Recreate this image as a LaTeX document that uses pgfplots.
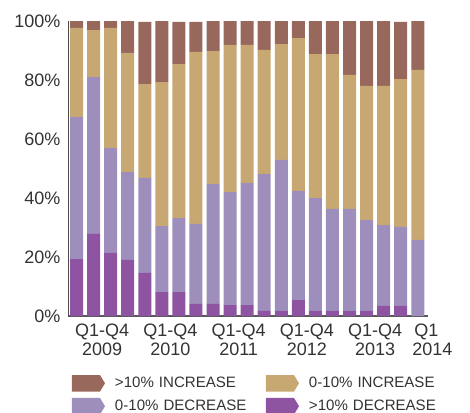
\documentclass[border=0pt]{standalone}
\usepackage{pgfplots}
\pgfplotsset{compat=1.18}
\usepackage{fontspec}
\setmainfont{Liberation Sans}
\definecolor{incA}{HTML}{98685C}
\definecolor{incB}{HTML}{C8A872}
\definecolor{decB}{HTML}{9E8EBB}
\definecolor{decA}{HTML}{8E54A2}
\definecolor{txt}{HTML}{333333}
\begin{document}
\begin{tikzpicture}
\useasboundingbox (0,0) rectangle (352.5pt,309pt);
\begin{axis}[
  at={(51pt,72pt)}, anchor=south west,
  scale only axis, width=270pt, height=221.25pt,
  ybar stacked, bar width=9.75pt,
  xmin=0.5, xmax=21.6, ymin=0, ymax=100,
  axis x line=bottom, axis y line=left,
  x axis line style={-, draw=black!65, line width=1.3pt},
  y axis line style={-, draw=black!70, line width=0.7pt},
  ytick={0,20,40,60,80,100},
  yticklabel={\pgfmathprintnumber{\tick}\%},
  ytick style={draw=none},
  xtick={2.5,6.5,10.5,14.5,18.5,21.5},
  xticklabels={{Q1-Q4\\2009},{Q1-Q4\\2010},{Q1-Q4\\2011},{Q1-Q4\\2012},{Q1-Q4\\2013},{Q1\\\hspace*{9pt}2014}},
  x tick style={draw=none},
  extra x ticks={4.5,8.5,12.5},
  extra x tick labels={},
  extra x tick style={tick align=outside, major tick length=3pt, tick style={draw=black!60, line width=0.9pt}},
  /pgf/number format/assume math mode=true,
  ticklabel style={font=\fontsize{13.5}{14.5}\selectfont, text=txt},
  xticklabel style={align=center},
  legend columns=2,
  reverse legend,
  legend cell align=left,
  legend image code/.code={
    \fill[#1] (0pt,-6.2pt) -- (21pt,-6.2pt) -- (24.75pt,0pt) -- (21pt,6.2pt) -- (0pt,6.2pt) -- cycle;
    \path (32.25pt,0pt);
  },
  legend style={at={(axis description cs:0.0111,-0.2)}, anchor=north west,
    draw=none, fill=none, inner sep=0pt, outer sep=0pt, row sep=4.8pt,
    font=\fontsize{11.3}{13}\selectfont, text=txt,
    nodes={inner sep=0pt, text width=113.25pt, align=left}},
]
\addplot[fill=decA, draw=none] coordinates {(1,19.3) (2,27.8) (3,21.4) (4,19.0) (5,14.6) (6,8.1) (7,8.1) (8,4.1) (9,4.1) (10,3.7) (11,3.7) (12,1.7) (13,1.7) (14,5.4) (15,1.7) (16,1.7) (17,1.7) (18,1.7) (19,3.4) (20,3.4) (21,0)};
\addlegendentry{>10\% DECREASE}
\addplot[fill=decB, draw=none] coordinates {(1,48.2) (2,53.2) (3,35.5) (4,29.8) (5,32.2) (6,22.4) (7,25.1) (8,27.1) (9,40.6) (10,38.3) (11,41.4) (12,46.4) (13,51.2) (14,37.0) (15,38.3) (16,34.6) (17,34.6) (18,30.8) (19,27.4) (20,26.8) (21,25.8)};
\addlegendentry{0-10\% DECREASE}
\addplot[fill=incB, draw=none] coordinates {(1,30.2) (2,15.9) (3,40.8) (4,40.4) (5,31.8) (6,48.8) (7,52.2) (8,58.3) (9,45.1) (10,49.9) (11,46.8) (12,42.1) (13,39.3) (14,51.8) (15,48.8) (16,52.5) (17,45.4) (18,45.5) (19,47.2) (20,50.1) (21,57.6)};
\addlegendentry{0-10\% INCREASE}
\addplot[fill=incA, draw=none] coordinates {(1,2.3) (2,3.1) (3,2.3) (4,10.8) (5,21.1) (6,20.7) (7,14.3) (8,10.2) (9,10.2) (10,8.1) (11,8.1) (12,9.8) (13,7.8) (14,5.8) (15,11.2) (16,11.2) (17,18.3) (18,22.0) (19,22.0) (20,19.4) (21,16.6)};
\addlegendentry{>10\% INCREASE}
\end{axis}
\end{tikzpicture}
\end{document}
